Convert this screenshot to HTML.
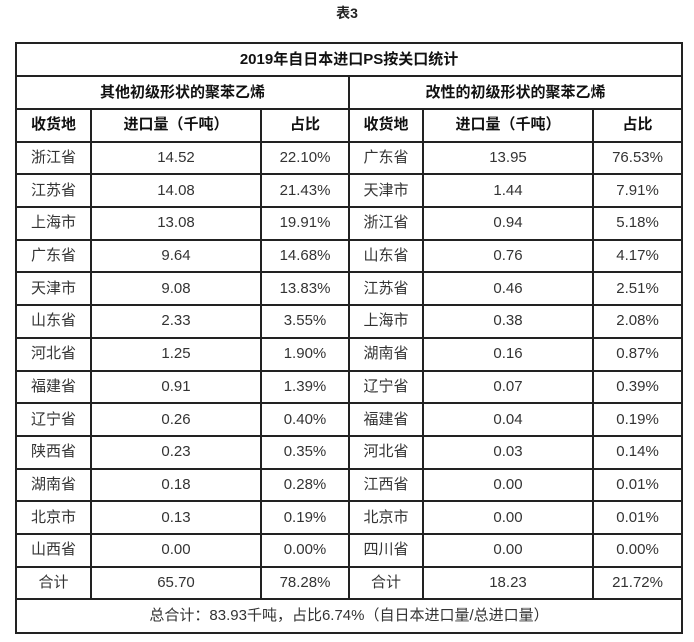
<!DOCTYPE html><html><head><meta charset="utf-8"><style>
body{margin:0;width:694px;height:642px;background:#fff;font-family:"Liberation Sans","Noto Sans CJK SC",sans-serif;}
.t{position:absolute;left:0;top:3px;width:694px;text-align:center;font-weight:bold;font-size:14px;color:#222}
table{position:absolute;left:15px;top:42px;border-collapse:collapse;table-layout:fixed;width:666px}
td{border:2px solid #222;text-align:center;font-size:15px;color:#333;height:30.7px;padding:0;line-height:30px;white-space:nowrap}
.b td,.b{font-weight:bold;color:#111}
</style></head><body>
<div class="t">表3</div>
<table>
<col style="width:75px"><col style="width:170px"><col style="width:88px"><col style="width:74px"><col style="width:170px"><col style="width:89px">
<tr class="b"><td colspan="6" style="height:31px">2019年自日本进口PS按关口统计</td></tr>
<tr class="b"><td colspan="3" style="height:31px">其他初级形状的聚苯乙烯</td><td colspan="3">改性的初级形状的聚苯乙烯</td></tr>
<tr class="b"><td style="height:30px">收货地</td><td>进口量（千吨）</td><td>占比</td><td>收货地</td><td>进口量（千吨）</td><td>占比</td></tr>
<tr><td>浙江省</td><td>14.52</td><td>22.10%</td><td>广东省</td><td>13.95</td><td>76.53%</td></tr>
<tr><td>江苏省</td><td>14.08</td><td>21.43%</td><td>天津市</td><td>1.44</td><td>7.91%</td></tr>
<tr><td>上海市</td><td>13.08</td><td>19.91%</td><td>浙江省</td><td>0.94</td><td>5.18%</td></tr>
<tr><td>广东省</td><td>9.64</td><td>14.68%</td><td>山东省</td><td>0.76</td><td>4.17%</td></tr>
<tr><td>天津市</td><td>9.08</td><td>13.83%</td><td>江苏省</td><td>0.46</td><td>2.51%</td></tr>
<tr><td>山东省</td><td>2.33</td><td>3.55%</td><td>上海市</td><td>0.38</td><td>2.08%</td></tr>
<tr><td>河北省</td><td>1.25</td><td>1.90%</td><td>湖南省</td><td>0.16</td><td>0.87%</td></tr>
<tr><td>福建省</td><td>0.91</td><td>1.39%</td><td>辽宁省</td><td>0.07</td><td>0.39%</td></tr>
<tr><td>辽宁省</td><td>0.26</td><td>0.40%</td><td>福建省</td><td>0.04</td><td>0.19%</td></tr>
<tr><td>陕西省</td><td>0.23</td><td>0.35%</td><td>河北省</td><td>0.03</td><td>0.14%</td></tr>
<tr><td>湖南省</td><td>0.18</td><td>0.28%</td><td>江西省</td><td>0.00</td><td>0.01%</td></tr>
<tr><td>北京市</td><td>0.13</td><td>0.19%</td><td>北京市</td><td>0.00</td><td>0.01%</td></tr>
<tr><td>山西省</td><td>0.00</td><td>0.00%</td><td>四川省</td><td>0.00</td><td>0.00%</td></tr>
<tr><td>合计</td><td>65.70</td><td>78.28%</td><td>合计</td><td>18.23</td><td>21.72%</td></tr>
<tr><td colspan="6" style="height:32px">总合计：83.93千吨，占比6.74%（自日本进口量/总进口量）</td></tr>
</table>
</body></html>
